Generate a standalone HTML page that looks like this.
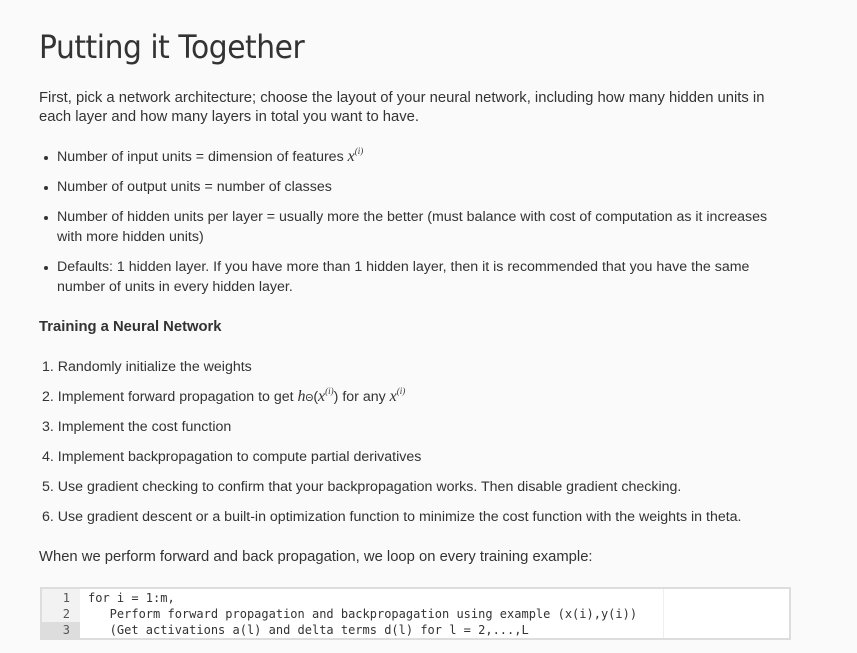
<!DOCTYPE html>
<html><head><meta charset="utf-8"><style>
body{margin:0;width:857px;height:653px;background:#fafafa;font-family:"Liberation Sans",sans-serif;color:#333;position:relative;overflow:hidden}
.t{position:absolute;white-space:nowrap;font-size:14.2px;line-height:20px}
.p{font-size:14.8px}
h1{position:absolute;left:39px;top:28px;margin:0;font-size:32px;color:#333;font-family:"DejaVu Sans","Liberation Sans",sans-serif;font-weight:normal;letter-spacing:-0.5px;transform:scaleX(0.93);transform-origin:left}
.b{position:absolute;left:44px;width:4px;height:4px;border-radius:50%;background:#333}
i.m{font-family:"Liberation Serif",serif;font-size:16px;line-height:0}
sup{font-size:9px;font-family:"Liberation Serif",serif;font-style:italic;line-height:0;vertical-align:7px}
.code{position:absolute;left:40px;top:587px;width:747px;height:49px;border:2px solid #ddd;background:#fff;font-family:"DejaVu Sans Mono","Liberation Mono",monospace;font-size:12px;color:#333}
.g{position:absolute;left:0;top:0;width:38px;height:49px;background:#f2f2f2}
.cl{position:absolute;left:0;width:747px;height:16px;line-height:16px;white-space:pre}
.n{position:absolute;left:0;width:28px;text-align:right;color:#555}
.c{position:absolute;left:46px}
</style></head><body>
<h1>Putting it Together</h1>
<div class="t p" style="left:39px;top:88px">First, pick a network architecture; choose the layout of your neural network, including how many hidden units in</div>
<div class="t p" style="left:39px;top:107px">each layer and how many layers in total you want to have.</div>
<div class="b" style="top:156px"></div><div class="t" style="left:57px;top:147px">Number of input units = dimension of features <i class="m">x</i><sup>(i)</sup></div>
<div class="b" style="top:186px"></div><div class="t" style="left:57px;top:177px">Number of output units = number of classes</div>
<div class="b" style="top:216px"></div><div class="t" style="left:57px;top:207px">Number of hidden units per layer = usually more the better (must balance with cost of computation as it increases</div>
<div class="t" style="left:57px;top:227px">with more hidden units)</div>
<div class="b" style="top:266px"></div><div class="t" style="left:57px;top:257px">Defaults: 1 hidden layer. If you have more than 1 hidden layer, then it is recommended that you have the same</div>
<div class="t" style="left:57px;top:277px">number of units in every hidden layer.</div>
<div class="t p" style="left:39px;top:317px;font-weight:bold">Training a Neural Network</div>
<div class="t" style="left:42px;top:357px">1. Randomly initialize the weights</div>
<div class="t" style="left:42px;top:387px">2. Implement forward propagation to get <i class="m">h</i><span style="font-size:10px;line-height:0">Θ</span>(<i class="m">x</i><sup>(i)</sup>) for any <i class="m">x</i><sup>(i)</sup></div>
<div class="t" style="left:42px;top:417px">3. Implement the cost function</div>
<div class="t" style="left:42px;top:447px">4. Implement backpropagation to compute partial derivatives</div>
<div class="t" style="left:42px;top:477px">5. Use gradient checking to confirm that your backpropagation works. Then disable gradient checking.</div>
<div class="t" style="left:42px;top:507px">6. Use gradient descent or a built-in optimization function to minimize the cost function with the weights in theta.</div>
<div class="t p" style="left:39px;top:547px">When we perform forward and back propagation, we loop on every training example:</div>
<div class="code"><div class="g"></div><div style="position:absolute;left:0;top:33px;width:38px;height:16px;background:#ddd"></div>
<div style="position:absolute;left:621px;top:0;width:1px;height:49px;background:#eee"></div>
<div class="cl" style="top:1px"><span class="n">1</span><span class="c">for i = 1:m,</span></div>
<div class="cl" style="top:17px"><span class="n">2</span><span class="c">   Perform forward propagation and backpropagation using example (x(i),y(i))</span></div>
<div class="cl" style="top:33px"><span class="n">3</span><span class="c">   (Get activations a(l) and delta terms d(l) for l = 2,...,L</span></div>
</div>
</body></html>
